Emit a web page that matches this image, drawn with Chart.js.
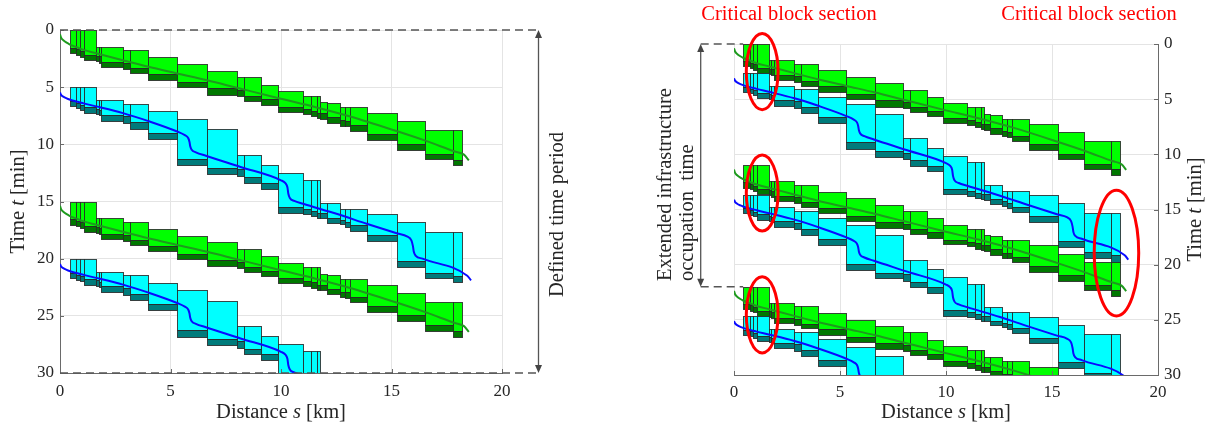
<!DOCTYPE html>
<html>
<head>
<meta charset="utf-8">
<script src="https://cdn.jsdelivr.net/npm/chart.js@4.4.1/dist/chart.umd.min.js"></script>
<style>
  body { margin: 0; background: #fff; }
  #wrap { position: relative; width: 1210px; height: 429px; }
  #left { position: absolute; left: 0; top: 0; }
  #right { position: absolute; left: 600px; top: 0; }
</style>
</head>
<body>
<div id="wrap">
  <canvas id="left" width="600" height="429"></canvas>
  <canvas id="right" width="610" height="429"></canvas>
</div>
<script>
// --- block sections along the line (km), same for every train
const blockEdges = [0.43, 0.74, 0.89, 1.07, 1.64, 1.75, 1.87, 2.85, 3.15, 3.97, 5.30, 6.66, 7.99, 8.32, 9.11,
  9.86, 10.99, 11.36, 11.63, 11.78, 12.08, 12.65, 12.89, 13.13, 13.90, 15.26, 16.53, 17.80, 18.21];

// green train: blocking times per section (min after train start)
const greenOccupied = [0, 0, 0, 0, 1.45, 1.45, 1.45, 1.78, 1.78, 2.40, 2.99, 3.56, 4.14, 4.14, 4.80, 5.37,
  5.75, 5.75, 5.75, 6.34, 6.39, 6.77, 6.77, 6.77, 7.26, 7.99, 8.78, 8.78];
const greenCleared = [1.54, 1.68, 1.83, 2.18, 2.24, 2.30, 2.82, 2.91, 3.34, 3.85, 4.55, 5.09, 5.29, 5.74, 6.07,
  6.72, 6.92, 7.06, 7.26, 7.26, 7.61, 7.90, 7.95, 8.34, 9.10, 9.97, 10.84, 11.33];
const greenReleased = [2.03, 2.18, 2.33, 2.63, 2.72, 2.85, 3.25, 3.43, 3.78, 4.36, 5.00, 5.67, 5.81, 6.19, 6.55,
  7.14, 7.35, 7.56, 7.70, 7.76, 8.13, 8.37, 8.43, 8.80, 9.65, 10.46, 11.30, 11.85];

// cyan train: blocking times per section (min after train start)
const cyanOccupied = [0, 0, 0, 0, 1.16, 1.16, 1.16, 1.45, 1.45, 2.12, 2.77, 3.66, 5.90, 5.90, 6.77, 7.49,
  8.08, 8.08, 8.08, 10.17, 10.17, 10.64, 10.64, 10.64, 11.07, 11.80, 12.64, 12.64];
const cyanCleared = [1.25, 1.40, 1.55, 1.77, 1.90, 2.00, 2.41, 2.56, 3.08, 4.00, 6.25, 7.06, 7.20, 7.88, 8.37,
  10.46, 10.68, 10.83, 10.97, 10.97, 11.42, 11.60, 11.75, 12.09, 12.96, 15.20, 16.21, 16.50];
const cyanReleased = [1.68, 1.83, 1.97, 2.27, 2.35, 2.47, 2.93, 3.14, 3.63, 4.53, 6.83, 7.58, 7.79, 8.37, 8.89,
  10.98, 11.13, 11.28, 11.42, 11.45, 11.86, 12.00, 12.20, 12.58, 13.46, 15.72, 16.71, 17.08];

// running curves (distance km -> min after train start)
const greenRunS = [0, 0.05, 0.15, 0.3, 0.43, 0.75, 1.07, 1.64, 2.8, 3.96, 5.3, 6.66, 8.0, 9.86, 11.57, 13.13,
  15.26, 16.53, 17.84, 18.28, 18.5];
const greenRunT = [0.38, 0.68, 0.9, 1.11, 1.25, 1.5, 1.74, 2.03, 2.62, 3.2, 3.8, 4.4, 5.05, 5.95, 6.75, 7.56,
  8.86, 9.68, 10.61, 10.9, 11.4];
const cyanRunS = [0, 0.05, 0.15, 0.3, 0.43, 1.07, 1.64, 2.85, 3.97, 5.3, 5.65, 5.8, 5.86, 5.89, 5.95, 6.15, 6.6,
  8.17, 10.0, 10.2, 10.29, 10.33, 10.4, 10.6, 11.0, 12.55, 13.91, 15.27, 15.7, 15.9, 15.97, 16.01, 16.1, 16.4,
  18.43, 18.6];
const cyanRunT = [0.46, 0.67, 0.83, 0.98, 1.08, 1.42, 1.68, 2.27, 2.95, 3.88, 4.2, 4.45, 4.8, 5.15, 5.45, 5.7, 6.0,
  6.98, 8.15, 8.4, 8.75, 9.3, 9.7, 9.95, 10.2, 11.1, 11.97, 12.8, 13.05, 13.4, 13.9, 14.4, 14.75, 15.0,
  16.5, 16.9];

// train start times (min)
const leftGreenStarts = [0, 15];
const leftCyanStarts = [5, 20];
const rightGreenStarts = [0, 11, 22];
const rightCyanStarts = [2.65, 13.65, 24.65];

// axes
const distanceTicks = [0, 5, 10, 15, 20];
const timeTicks = [0, 5, 10, 15, 20, 25, 30];

// critical block sections (ellipses in the right panel)
const critS = [1.33, 1.33, 1.33, 18.04];
const critT = [2.5, 13.5, 24.55, 18.95];
const critRs = [0.75, 0.75, 0.75, 1.05];
const critRt = [3.45, 3.45, 3.45, 5.7];

const SERIF = "'Liberation Serif', 'DejaVu Serif', serif";
const TXT = '#262626';
const COLORS = {
  green: { light: '#00ff00', dark: '#007800', line: '#1e9a1e' },
  cyan: { light: '#00ffff', dark: '#007b7b', line: '#0a0aff' }
};

function trainList(greens, cyans) {
  return greens.map(t0 => ({ t0, kind: 'green' }))
    .concat(cyans.map(t0 => ({ t0, kind: 'cyan' })))
    .sort((a, b) => a.t0 - b.t0);
}

function runDatasets(starts, runS, runT, color) {
  return starts.map(t0 => ({
    data: runS.map((s, i) => ({ x: s, y: t0 + runT[i] })),
    borderColor: color,
    borderWidth: 2,
    pointRadius: 0,
    showLine: true,
    fill: false,
    cubicInterpolationMode: 'monotone'
  }));
}

// blocking time rectangles, drawn through the chart scales
function blockPlugin(trains) {
  return {
    id: 'blocks',
    beforeDatasetsDraw(chart) {
      const { ctx, chartArea: a, scales: { x, y } } = chart;
      ctx.save();
      ctx.beginPath();
      ctx.rect(a.left, a.top, a.right - a.left, a.bottom - a.top);
      ctx.clip();
      ctx.lineWidth = 1;
      ctx.strokeStyle = 'rgba(40,40,40,0.85)';
      trains.forEach(tr => {
        const g = tr.kind === 'green';
        const occ = g ? greenOccupied : cyanOccupied;
        const clr = g ? greenCleared : cyanCleared;
        const rel = g ? greenReleased : cyanReleased;
        const col = COLORS[tr.kind];
        for (let i = 0; i < blockEdges.length - 1; i++) {
          const x0 = Math.round(x.getPixelForValue(blockEdges[i])) + 0.5;
          const x1 = Math.round(x.getPixelForValue(blockEdges[i + 1])) + 0.5;
          const y0 = Math.round(y.getPixelForValue(tr.t0 + occ[i])) + 0.5;
          const ym = Math.round(y.getPixelForValue(tr.t0 + clr[i])) + 0.5;
          const y1 = Math.round(y.getPixelForValue(tr.t0 + rel[i])) + 0.5;
          ctx.fillStyle = col.light;
          ctx.fillRect(x0, y0, x1 - x0, ym - y0);
          ctx.strokeRect(x0, y0, x1 - x0, ym - y0);
          ctx.fillStyle = col.dark;
          ctx.fillRect(x0, ym, x1 - x0, y1 - ym);
          ctx.strokeRect(x0, ym, x1 - x0, y1 - ym);
        }
      });
      ctx.restore();
    }
  };
}

function fontOf(italic, size) {
  return (italic ? 'italic ' : '') + size + 'px ' + SERIF;
}

// text with italic parts, centred on (cx, cy), optionally rotated
function mixedText(ctx, parts, cx, cy, size, rotate, align) {
  ctx.save();
  ctx.translate(cx, cy);
  if (rotate) ctx.rotate(-Math.PI / 2);
  ctx.textBaseline = 'middle';
  ctx.textAlign = 'left';
  let total = 0;
  parts.forEach(p => { ctx.font = fontOf(p[1], size); total += ctx.measureText(p[0]).width; });
  let pos = align === 'start' ? 0 : -total / 2;
  parts.forEach(p => {
    ctx.font = fontOf(p[1], size);
    ctx.fillText(p[0], pos, 0);
    pos += ctx.measureText(p[0]).width;
  });
  ctx.restore();
}

function arrowV(ctx, x, yTop, yBot) {
  const h = 8, w = 3.5;
  ctx.beginPath();
  ctx.moveTo(x, yTop + h - 1);
  ctx.lineTo(x, yBot - h + 1);
  ctx.stroke();
  ctx.beginPath();
  ctx.moveTo(x, yTop); ctx.lineTo(x - w, yTop + h); ctx.lineTo(x + w, yTop + h); ctx.closePath();
  ctx.fill();
  ctx.beginPath();
  ctx.moveTo(x, yBot); ctx.lineTo(x - w, yBot - h); ctx.lineTo(x + w, yBot - h); ctx.closePath();
  ctx.fill();
}

function innerTicks(chart, yRight) {
  const { ctx, chartArea: a, scales: { x, y } } = chart;
  ctx.save();
  ctx.strokeStyle = '#6a6a6a';
  ctx.lineWidth = 1;
  ctx.beginPath();
  timeTicks.forEach(t => {
    const py = Math.round(y.getPixelForValue(t)) + 0.5;
    if (yRight) { ctx.moveTo(a.right, py); ctx.lineTo(a.right - 4, py); }
    else { ctx.moveTo(a.left, py); ctx.lineTo(a.left + 4, py); }
  });
  distanceTicks.forEach(s => {
    const px = Math.round(x.getPixelForValue(s)) + 0.5;
    ctx.moveTo(px, a.bottom); ctx.lineTo(px, a.bottom - 4);
  });
  ctx.stroke();
  ctx.restore();
}

const leftAnnotations = {
  id: 'leftNotes',
  afterDraw(chart) {
    const { ctx, chartArea: a, scales: { x, y } } = chart;
    innerTicks(chart, false);
    const ax = a.right + 36.5;
    const yTop = y.getPixelForValue(timeTicks[0]);
    const yBot = y.getPixelForValue(timeTicks[timeTicks.length - 1]);
    ctx.save();
    ctx.strokeStyle = '#555';
    ctx.fillStyle = '#444';
    ctx.lineWidth = 1.5;
    ctx.setLineDash([8, 5]);
    ctx.beginPath();
    ctx.moveTo(x.getPixelForValue(0), yTop); ctx.lineTo(ax, yTop);
    ctx.moveTo(x.getPixelForValue(0), yBot); ctx.lineTo(ax, yBot);
    ctx.stroke();
    ctx.setLineDash([]);
    ctx.lineWidth = 1.3;
    arrowV(ctx, ax, yTop, yBot);
    ctx.restore();

    ctx.fillStyle = TXT;
    mixedText(ctx, [['Defined time period', false]], ax + 19, 297, 20.5, true, 'start');
    mixedText(ctx, [['Distance ', false], ['s', true], [' [km]', false]], (a.left + a.right) / 2, 413, 20.5, false);
    mixedText(ctx, [['Time ', false], ['t', true], [' [min]', false]], 19, (a.top + a.bottom) / 2, 20.5, true);
  }
};

const rightAnnotations = {
  id: 'rightNotes',
  afterDraw(chart) {
    const { ctx, chartArea: a, scales: { x, y } } = chart;
    innerTicks(chart, true);

    // critical block sections
    ctx.save();
    ctx.strokeStyle = '#ff0000';
    ctx.lineWidth = 3;
    critS.forEach((s, i) => {
      const cx = x.getPixelForValue(s), cy = y.getPixelForValue(critT[i]);
      const rx = x.getPixelForValue(s + critRs[i]) - cx;
      const ry = y.getPixelForValue(critT[i] + critRt[i]) - cy;
      ctx.beginPath();
      ctx.ellipse(cx, cy, rx, ry, 0, 0, Math.PI * 2);
      ctx.stroke();
    });
    ctx.restore();

    ctx.fillStyle = '#ff0000';
    mixedText(ctx, [['Critical block section', false]], 189, 15, 20.5, false);
    mixedText(ctx, [['Critical block section', false]], 489, 15, 20.5, false);

    // extended occupation time
    const ax = 100.7;
    const yTop = y.getPixelForValue(rightGreenStarts[0]);
    const yBot = y.getPixelForValue(rightGreenStarts[2]);
    const xEnd = x.getPixelForValue(blockEdges[0]);
    ctx.save();
    ctx.strokeStyle = '#555';
    ctx.fillStyle = '#444';
    ctx.lineWidth = 1.5;
    ctx.setLineDash([8, 5]);
    ctx.beginPath();
    ctx.moveTo(ax, yTop); ctx.lineTo(xEnd, yTop);
    ctx.moveTo(ax, yBot); ctx.lineTo(xEnd, yBot);
    ctx.stroke();
    ctx.setLineDash([]);
    ctx.lineWidth = 1.3;
    arrowV(ctx, ax, yTop, yBot);
    ctx.restore();

    ctx.fillStyle = TXT;
    mixedText(ctx, [['Extended infrastructure', false]], 66, 281, 20.5, true, 'start');
    mixedText(ctx, [['occupation  time', false]], 88, 281, 20.5, true, 'start');
    mixedText(ctx, [['Distance ', false], ['s', true], [' [km]', false]], (a.left + a.right) / 2, 413, 20.5, false);
    mixedText(ctx, [['Time ', false], ['t', true], [' [min]', false]], 596, (a.top + a.bottom) / 2, 20.5, true);
  }
};

function makeOptions(right) {
  const tickFont = { family: SERIF, size: 17 };
  return {
    responsive: false,
    animation: false,
    layout: {
      padding: right ? { left: 134, top: 44, right: 0, bottom: 0 } : { left: 0, top: 30, right: 98, bottom: 0 }
    },
    plugins: { legend: { display: false }, tooltip: { enabled: false } },
    scales: {
      x: {
        type: 'linear', position: 'bottom', min: 0, max: 20,
        afterBuildTicks: s => { s.ticks = distanceTicks.map(v => ({ value: v })); },
        afterFit: s => { s.height = right ? 54 : 56; },
        grid: { color: '#e4e4e4', drawTicks: false },
        border: { display: true, color: '#6a6a6a', width: 1 },
        ticks: { font: tickFont, color: TXT, padding: right ? 7 : 8, maxRotation: 0 }
      },
      y: {
        type: 'linear', position: right ? 'right' : 'left', min: 0, max: 30, reverse: true,
        afterBuildTicks: s => { s.ticks = timeTicks.map(v => ({ value: v })); },
        afterFit: s => { s.width = right ? 52 : 60; },
        grid: { color: '#e4e4e4', drawTicks: false },
        border: { display: true, color: '#6a6a6a', width: 1 },
        ticks: { font: tickFont, color: TXT, padding: 6 }
      }
    }
  };
}

new Chart(document.getElementById('left'), {
  type: 'scatter',
  data: {
    datasets: runDatasets(leftGreenStarts, greenRunS, greenRunT, COLORS.green.line)
      .concat(runDatasets(leftCyanStarts, cyanRunS, cyanRunT, COLORS.cyan.line))
  },
  options: makeOptions(false),
  plugins: [blockPlugin(trainList(leftGreenStarts, leftCyanStarts)), leftAnnotations]
});

new Chart(document.getElementById('right'), {
  type: 'scatter',
  data: {
    datasets: runDatasets(rightGreenStarts, greenRunS, greenRunT, COLORS.green.line)
      .concat(runDatasets(rightCyanStarts, cyanRunS, cyanRunT, COLORS.cyan.line))
  },
  options: makeOptions(true),
  plugins: [blockPlugin(trainList(rightGreenStarts, rightCyanStarts)), rightAnnotations]
});
</script>
</body>
</html>
